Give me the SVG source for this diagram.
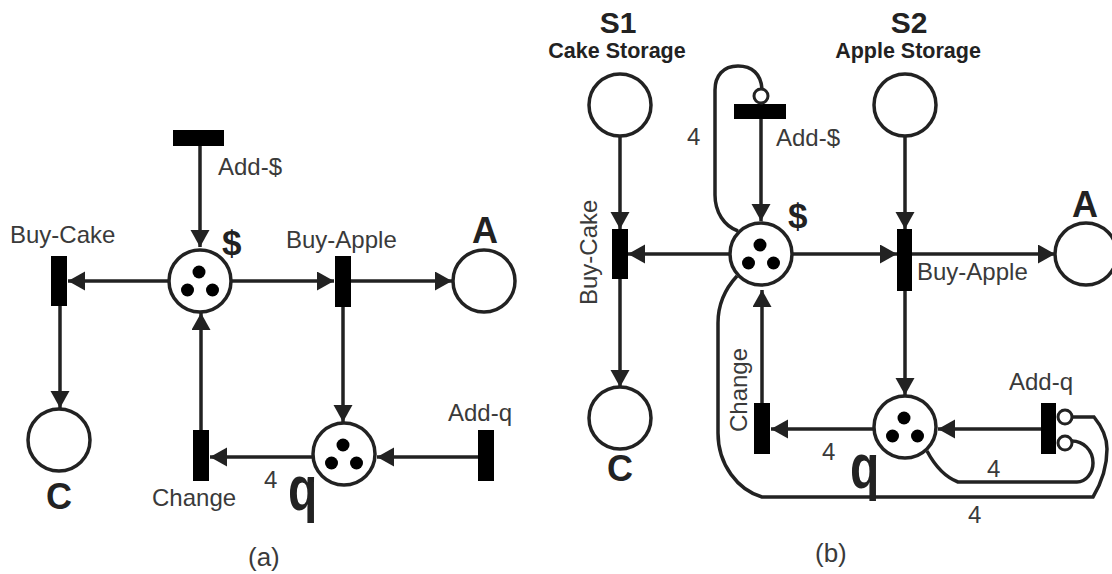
<svg xmlns="http://www.w3.org/2000/svg" width="1112" height="574" viewBox="0 0 1112 574">
<style>
text{font-family:"Liberation Sans",Arial,sans-serif;fill:#3a3a3a}
.l{font-size:24px}
.b{font-weight:bold;fill:#222}
.big{font-size:35px}
.hd{font-size:30px;text-anchor:middle}
.sub{font-size:21.500px;text-anchor:middle}
.cap{font-size:36px}
.paren{font-size:26px}
.p{fill:#fff;stroke:#222;stroke-width:3.500}
.t{fill:#000}
.s{fill:#fff;stroke:#222;stroke-width:3}
.c{fill:none;stroke:#222;stroke-width:3.500}
.a{marker-end:url(#ah)}
</style>
<defs>
<marker id="ah" markerUnits="userSpaceOnUse" markerWidth="18" markerHeight="20" refX="17" refY="9.500" orient="auto"><path d="M0 0L17 9.500L0 19Z" fill="#222"/></marker>
<g id="tok"><circle cx="-1" cy="-9" r="6.500" class="t"/><circle cx="-12.500" cy="9" r="6.500" class="t"/><circle cx="12.500" cy="9" r="6.500" class="t"/></g>
</defs>
<rect width="1112" height="574" fill="#fff"/>
<g id="connectors">
<path class="c a" d="M200 146V247"/>
<path class="c a" d="M169 281H68"/>
<path class="c a" d="M232 281H334"/>
<path class="c a" d="M351 281H452"/>
<path class="c a" d="M60 306V408"/>
<path class="c a" d="M201 430V313"/>
<path class="c a" d="M343 307V422"/>
<path class="c a" d="M313 457H210"/>
<path class="c a" d="M478 457H377"/>
<path class="c a" d="M620 137V229"/>
<path class="c a" d="M730 254H628"/>
<path class="c a" d="M620 279V387"/>
<path class="c a" d="M761 119V221"/>
<path class="c a" d="M792 254H897"/>
<path class="c a" d="M905 136V229"/>
<path class="c a" d="M912 254H1055"/>
<path class="c a" d="M905 291V395"/>
<path class="c a" d="M762 403V290"/>
<path class="c a" d="M873 429H771"/>
<path class="c a" d="M1041 429H938"/>
<path class="c" d="M762 89C761 74 752 66 738 66C723 66 715 76 715 90V195C715 212 724 226 738 231"/>
<path class="c" d="M927 451C935 466 945 477 958 482H1077C1086 482 1093 473 1093 463C1093 450 1083 441 1072 441"/>
<path class="c" d="M1072 417H1094C1103 428 1107 438 1107 449C1107 466 1102 482 1093 497H762C738 490 718 465 718 433V323C718 305 724 290 737 276"/>
</g>
<g id="a-add-dollar"><rect x="173" y="130" width="51" height="16" class="t"/><text class="l" x="218" y="175">Add-$</text></g>
<g id="a-buy-cake"><rect x="51" y="256" width="16" height="50" class="t"/><text class="l" x="10" y="243">Buy-Cake</text></g>
<g id="a-buy-apple"><rect x="335" y="256" width="16" height="51" class="t"/><text class="l" x="286" y="248">Buy-Apple</text></g>
<g id="a-dollar"><circle cx="200" cy="281" r="31" class="p"/><use href="#tok" x="200" y="281"/><text class="b big" x="222" y="255">$</text></g>
<g id="a-A"><circle cx="484" cy="281" r="31" class="p"/><text class="b cap" x="472" y="243">A</text></g>
<g id="a-C"><circle cx="59" cy="440" r="31" class="p"/><text class="b cap" x="46" y="509">C</text></g>
<g id="a-q"><circle cx="344" cy="454" r="31" class="p"/><use href="#tok" x="344" y="454"/><text class="b" font-size="48" transform="translate(288 510) scale(1 1.300)">q</text></g>
<g id="a-change"><rect x="193" y="430" width="16" height="51" class="t"/><text class="l" x="152" y="506">Change</text></g>
<g id="a-add-q"><rect x="478" y="430" width="16" height="51" class="t"/><text class="l" x="448" y="421">Add-q</text></g>
<text class="l" x="264" y="488">4</text>
<text class="paren" x="248" y="566">(a)</text>
<g id="b-S1"><circle cx="620" cy="105" r="31" class="p"/><text class="b hd" x="618" y="33">S1</text><text class="b sub" x="617" y="58">Cake Storage</text></g>
<g id="b-S2"><circle cx="905" cy="105" r="31" class="p"/><text class="b hd" x="909" y="33">S2</text><text class="b sub" x="908" y="58">Apple Storage</text></g>
<g id="b-add-dollar"><rect x="734" y="104" width="52" height="15" class="t"/><circle cx="761" cy="96" r="7" class="s"/><text class="l" x="776" y="146">Add-$</text><text class="l" x="687" y="145">4</text></g>
<g id="b-buy-cake"><rect x="612" y="229" width="16" height="50" class="t"/><text class="l" transform="translate(597 305) rotate(-90)">Buy-Cake</text></g>
<g id="b-buy-apple"><rect x="897" y="229" width="15" height="62" class="t"/><text class="l" x="917" y="280">Buy-Apple</text></g>
<g id="b-dollar"><circle cx="761" cy="254" r="31" class="p"/><use href="#tok" x="761" y="254"/><text class="b big" x="788" y="228">$</text></g>
<g id="b-A"><circle cx="1086" cy="254" r="31" class="p"/><text class="b cap" x="1072" y="217">A</text></g>
<g id="b-C"><circle cx="620" cy="418" r="31" class="p"/><text class="b cap" x="607" y="481">C</text></g>
<g id="b-q"><circle cx="905" cy="427" r="31" class="p"/><use href="#tok" x="905" y="427"/><text class="b" font-size="48" transform="translate(850 488) scale(1 1.300)">q</text></g>
<g id="b-change"><rect x="754" y="403" width="16" height="51" class="t"/><text class="l" transform="translate(747 432) rotate(-90)">Change</text></g>
<g id="b-add-q"><rect x="1041" y="403" width="15" height="51" class="t"/><circle cx="1065" cy="417" r="7" class="s"/><circle cx="1065" cy="443" r="7" class="s"/><text class="l" x="1009" y="390">Add-q</text></g>
<text class="l" x="822" y="460">4</text>
<text class="l" x="987" y="477">4</text>
<text class="l" x="968" y="523">4</text>
<text class="paren" x="815" y="562">(b)</text>
</svg>
